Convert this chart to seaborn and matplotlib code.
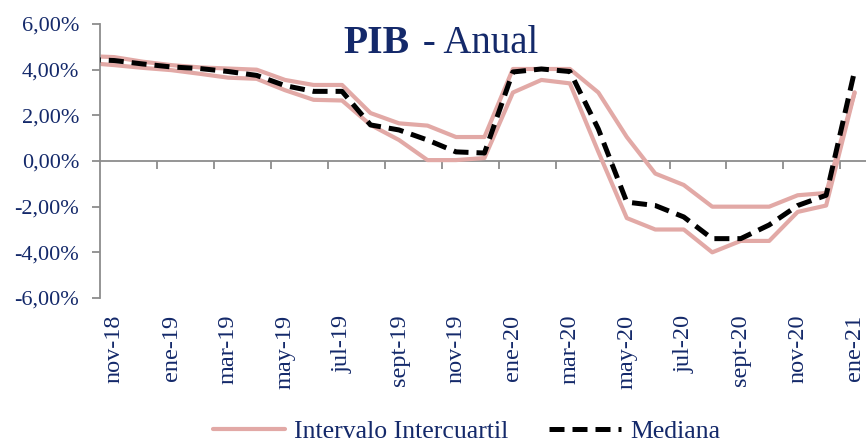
import numpy as np
import pandas as pd
import matplotlib
matplotlib.use("Agg")
import matplotlib.pyplot as plt
from matplotlib.ticker import FuncFormatter
import seaborn as sns

# ---- data (values in %) ----
months = ['oct-18', 'nov-18', 'dic-18', 'ene-19', 'feb-19', 'mar-19', 'abr-19', 'may-19',
          'jun-19', 'jul-19', 'ago-19', 'sept-19', 'oct-19', 'nov-19', 'dic-19', 'ene-20',
          'feb-20', 'mar-20', 'abr-20', 'may-20', 'jun-20', 'jul-20', 'ago-20', 'sept-20',
          'oct-20', 'nov-20', 'dic-20', 'ene-21']
q3 = [4.60, 4.55, 4.35, 4.20, 4.10, 4.05, 4.00, 3.55, 3.33, 3.33, 2.10, 1.65, 1.55, 1.05,
      1.05, 4.03, 4.03, 4.03, 3.00, 1.05, -0.55, -1.05, -2.00, -2.00, -2.00, -1.50, -1.40, 3.00]
q1 = [4.30, 4.20, 4.08, 3.98, 3.82, 3.65, 3.60, 3.10, 2.68, 2.65, 1.58, 0.92, 0.04, 0.04,
      0.13, 3.00, 3.55, 3.40, 0.40, -2.50, -3.00, -3.00, -4.00, -3.50, -3.50, -2.23, -1.95, 3.00]
med = [4.45, 4.40, 4.25, 4.12, 4.05, 3.92, 3.75, 3.30, 3.05, 3.05, 1.58, 1.36, 0.92, 0.40,
       0.35, 3.90, 4.03, 3.92, 1.40, -1.80, -1.95, -2.45, -3.40, -3.40, -2.80, -1.95, -1.50, 3.95]
tick_labels = months[1::2]
y_ticks = [-6, -4, -2, 0, 2, 4, 6]

PINK = '#E2A9A6'
NAVY = '#14296A'
GRAY = '#8C8C8C'

sns.set_theme(style='white')
plt.rcParams['font.family'] = ['Liberation Serif', 'DejaVu Serif']

df = pd.DataFrame({'pos': np.arange(len(months)) - 1, 'q3': q3, 'q1': q1, 'med': med})

fig = plt.figure(figsize=(8.66, 4.43), dpi=100)
ax = fig.add_axes([0.1155, 0.3273, 0.8845, 0.6185])

sns.lineplot(data=df, x='pos', y='q3', ax=ax, color=PINK, lw=3.0, label='Intervalo Intercuartil')
sns.lineplot(data=df, x='pos', y='q1', ax=ax, color=PINK, lw=3.0, label='_nolegend_')
sns.lineplot(data=df, x='pos', y='med', ax=ax, color='black', lw=3.6, label='Mediana')
med_line = ax.lines[2]
med_line.set_linestyle((0, (3.0, 1.6)))
med_line.set_zorder(5)
if ax.get_legend() is not None:
    ax.get_legend().remove()

ax.set_xlim(-0.5, 26.4)
ax.set_ylim(-6, 6)
ax.set_xlabel('')
ax.set_ylabel('')
ax.set_yticks(y_ticks)
ax.yaxis.set_major_formatter(FuncFormatter(lambda v, _: f"{v:.2f}%".replace('.', ',')))
ax.set_xticks(np.arange(0, 27, 2))
ax.set_xticklabels(tick_labels, rotation=90, va='top', ha='center')

for s in ['top', 'right', 'bottom']:
    ax.spines[s].set_visible(False)
ax.spines['left'].set_color(GRAY)
ax.spines['left'].set_linewidth(1.3)

ax.tick_params(axis='x', length=0, pad=12, labelcolor=NAVY, labelsize=17.5)
ax.tick_params(axis='y', left=True, length=6, width=1.3, color=GRAY, pad=9,
               labelcolor=NAVY, labelsize=16)

# zero line with category tick marks
sec = ax.secondary_xaxis(0.5)
sec.set_alignment('bottom')
sec.set_xticks(np.arange(1.5, 26, 2))
sec.set_xticklabels([])
sec.tick_params(direction='out', length=6, width=1.3, color=GRAY)
for s in sec.spines.values():
    s.set_color(GRAY)
    s.set_linewidth(1.3)

# title
fig.text(0.4734, 0.880, 'PIB', fontsize=28.5, color=NAVY, ha='right', va='baseline',
         fontweight='bold')
fig.text(0.4765, 0.880, ' - Anual', fontsize=28, color=NAVY, ha='left', va='baseline')

fig.legend(handles=[ax.lines[0], med_line], labels=['Intervalo Intercuartil', 'Mediana'],
           loc='center', bbox_to_anchor=(0.539, 0.027), ncol=2, frameon=False,
           fontsize=18.5, labelcolor=NAVY, handlelength=2.8, handletextpad=0.35,
           columnspacing=1.6)

fig.savefig('out.png', dpi=100)
